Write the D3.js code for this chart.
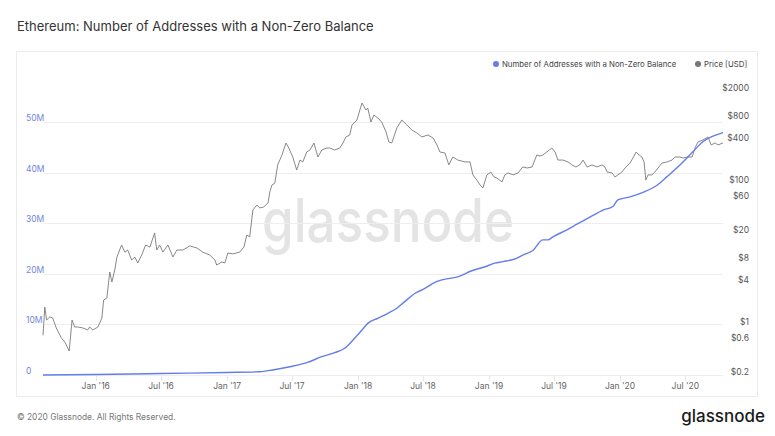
<!DOCTYPE html>
<html>
<head>
<meta charset="utf-8">
<script src="https://cdn.jsdelivr.net/npm/d3@7"></script>
<style>
  html, body { margin: 0; padding: 0; background: #ffffff; }
  svg { display: block; font-family: Inter, "Noto Sans", sans-serif; }
</style>
</head>
<body>
<svg id="chart" width="775" height="436"></svg>
<script>
const priceDates = ["2015-08-07","2015-08-12","2015-08-17","2015-08-26","2015-09-03","2015-09-13","2015-09-27","2015-10-07","2015-10-19","2015-10-27","2015-11-03","2015-11-12","2015-11-26","2015-12-10","2015-12-15","2015-12-24","2016-01-07","2016-01-18","2016-01-23","2016-02-01","2016-02-09","2016-02-15","2016-02-23","2016-02-29","2016-03-13","2016-03-22","2016-03-30","2016-04-10","2016-04-19","2016-04-27","2016-05-08","2016-05-19","2016-05-31","2016-06-13","2016-06-19","2016-06-27","2016-07-06","2016-07-20","2016-08-03","2016-08-14","2016-08-31","2016-09-19","2016-10-09","2016-10-25","2016-11-14","2016-11-28","2016-12-03","2016-12-17","2016-12-26","2017-01-03","2017-01-17","2017-02-05","2017-02-17","2017-02-25","2017-03-05","2017-03-14","2017-03-25","2017-04-02","2017-04-13","2017-04-25","2017-04-30","2017-05-06","2017-05-14","2017-05-22","2017-06-03","2017-06-14","2017-06-22","2017-07-03","2017-07-14","2017-07-23","2017-07-31","2017-08-11","2017-08-20","2017-08-31","2017-09-11","2017-09-22","2017-10-06","2017-10-14","2017-10-28","2017-11-11","2017-11-20","2017-11-28","2017-12-09","2017-12-15","2017-12-29","2018-01-06","2018-01-12","2018-01-23","2018-01-28","2018-02-06","2018-02-14","2018-02-25","2018-03-08","2018-03-20","2018-03-28","2018-04-05","2018-04-19","2018-05-03","2018-05-17","2018-05-31","2018-06-14","2018-06-28","2018-07-15","2018-07-29","2018-08-09","2018-08-17","2018-08-31","2018-09-11","2018-09-22","2018-10-06","2018-10-26","2018-11-09","2018-11-17","2018-11-28","2018-12-07","2018-12-15","2018-12-26","2019-01-06","2019-01-15","2019-01-23","2019-02-06","2019-02-14","2019-02-23","2019-03-09","2019-03-23","2019-04-05","2019-04-17","2019-05-01","2019-05-14","2019-05-23","2019-05-31","2019-06-11","2019-06-25","2019-07-04","2019-07-12","2019-07-26","2019-08-09","2019-08-20","2019-08-31","2019-09-11","2019-09-20","2019-10-01","2019-10-15","2019-10-29","2019-11-12","2019-11-20","2019-11-26","2019-12-10","2019-12-18","2019-12-26","2020-01-06","2020-01-15","2020-01-29","2020-02-06","2020-02-15","2020-02-23","2020-03-02","2020-03-08","2020-03-13","2020-03-19","2020-03-30","2020-04-07","2020-04-16","2020-04-27","2020-05-11","2020-05-25","2020-06-02","2020-06-16","2020-06-25","2020-07-08","2020-07-20","2020-07-28","2020-08-05","2020-08-19","2020-09-02","2020-09-11","2020-09-22","2020-09-30","2020-10-14"];
const priceValues = [0.75,1.87,1.23,1.36,1.31,0.95,0.69,0.60,0.45,1.23,0.98,0.98,0.95,0.89,0.98,0.89,0.98,1.31,2.35,2.51,5.83,4.22,6.22,9.48,14.0,11.1,11.9,8.61,9.48,7.81,10.1,14.0,13.1,20.7,11.9,14.0,11.1,14.0,9.48,11.9,11.9,13.6,12.7,11.1,10.1,8.61,7.31,8.07,7.81,10.8,10.5,11.1,13.1,19.4,18.2,43.6,51.2,46.5,48.0,54.7,78,98,104,188,259,383,325,243,159,220,207,286,305,383,243,305,325,325,305,325,383,465,496,686,807,1115,1400,1115,1191,755,948,861,755,547,395,383,622,807,686,583,530,465,496,450,359,286,277,188,243,220,207,207,136,115,98,89,136,149,127,123,108,136,145,136,145,176,170,176,259,251,259,286,325,286,220,220,207,188,176,188,220,176,188,176,188,176,149,145,127,136,149,170,200,235,286,259,243,207,115,136,136,149,170,200,207,220,243,243,235,243,243,325,395,422,465,359,383,359,383];

const addrDates = ["2015-08-07","2016-01-01","2016-07-01","2017-01-01","2017-04-01","2017-05-08","2017-06-25","2017-08-11","2017-09-22","2017-10-28","2017-11-25","2017-12-18","2018-01-12","2018-01-28","2018-02-25","2018-03-25","2018-04-19","2018-05-11","2018-06-08","2018-07-06","2018-08-03","2018-08-23","2018-10-06","2018-11-14","2018-12-21","2019-01-17","2019-02-09","2019-03-20","2019-04-05","2019-05-03","2019-05-31","2019-06-14","2019-06-28","2019-08-06","2019-09-03","2019-10-09","2019-11-15","2019-12-12","2019-12-26","2020-01-29","2020-03-05","2020-04-13","2020-05-11","2020-06-16","2020-07-22","2020-08-19","2020-09-16","2020-10-14"];
const addrValues = [0.01e6,0.1e6,0.3e6,0.5e6,0.65e6,1.0e6,1.64e6,2.43e6,3.62e6,4.41e6,5.28e6,6.92e6,8.89e6,10.2e6,11.2e6,12.2e6,13.2e6,14.5e6,16.1e6,17.1e6,18.3e6,18.8e6,19.4e6,20.6e6,21.4e6,22.1e6,22.4e6,23.1e6,23.7e6,24.6e6,26.7e6,26.7e6,27.3e6,28.7e6,29.8e6,31.2e6,32.6e6,33.3e6,34.6e6,35.2e6,36.1e6,37.5e6,39.2e6,41.5e6,44.1e6,46.1e6,47.2e6,47.9e6];

const leftTicks = [0, 10e6, 20e6, 30e6, 40e6, 50e6];
const leftTickLabels = ["0", "10M", "20M", "30M", "40M", "50M"];
const rightTicks = [0.2, 0.6, 1, 4, 8, 20, 60, 100, 400, 800, 2000];
const rightTickLabels = ["$0.2", "$0.6", "$1", "$4", "$8", "$20", "$60", "$100", "$400", "$800", "$2000"];
const xTickDates = ["2016-01-01","2016-07-01","2017-01-01","2017-07-01","2018-01-01","2018-07-01","2019-01-01","2019-07-01","2020-01-01","2020-07-01"];
const xTickLabels = ["Jan '16","Jul '16","Jan '17","Jul '17","Jan '18","Jul '18","Jan '19","Jul '19","Jan '20","Jul '20"];

const parse = d3.utcParse("%Y-%m-%d");
const price = priceDates.map((d, i) => ({ date: parse(d), v: priceValues[i] }));
const addr = addrDates.map((d, i) => ({ date: parse(d), v: addrValues[i] }));

const svg = d3.select("#chart");
const BLUE = "#627EEA";

// Title
svg.append("text").attr("x", 17).attr("y", 31)
  .attr("font-size", 13).attr("fill", "#333").text("Ethereum: Number of Addresses with a Non-Zero Balance");

// Panel
svg.append("rect").attr("x", 16.5).attr("y", 51.5).attr("width", 741).attr("height", 345)
  .attr("fill", "#fff").attr("stroke", "#ececec");

const x = d3.scaleUtc().domain([parse("2015-08-07"), parse("2020-10-14")]).range([43, 723]);
const yL = d3.scaleLinear().domain([0, 50e6]).range([375, 122]);
const yR = d3.scaleLog().domain([0.2, 2000]).range([376, 92]);

// Watermark
svg.append("text").attr("x", 388).attr("y", 242).attr("text-anchor", "middle")
  .attr("font-size", 60).attr("font-weight", 500).attr("fill", "#e4e4e4")
  .attr("textLength", 252).attr("lengthAdjust", "spacingAndGlyphs").text("glassnode");

// Gridlines
svg.append("g").selectAll("line").data(leftTicks).join("line")
  .attr("x1", 43).attr("x2", 723)
  .attr("y1", d => Math.round(yL(d)) + 0.5).attr("y2", d => Math.round(yL(d)) + 0.5)
  .attr("stroke", "#eeeeee");

// Left labels
svg.append("g").selectAll("text").data(leftTicks).join("text")
  .attr("x", 26).attr("y", d => yL(d) - 4).attr("dy", "0.35em")
  .attr("font-size", 8.5).attr("fill", "#6f86de")
  .text((d, i) => leftTickLabels[i]);

// Right labels
svg.append("g").selectAll("text").data(rightTicks).join("text")
  .attr("x", 749).attr("y", d => yR(d) - 4).attr("dy", "0.35em").attr("text-anchor", "end")
  .attr("font-size", 8.5).attr("fill", "#555")
  .text((d, i) => rightTickLabels[i]);

// X ticks
const xt = svg.append("g");
xt.selectAll("line").data(xTickDates).join("line")
  .attr("x1", d => Math.round(x(parse(d))) + 0.5).attr("x2", d => Math.round(x(parse(d))) + 0.5)
  .attr("y1", 376).attr("y2", 381).attr("stroke", "#e6e6e6");
xt.selectAll("text").data(xTickDates).join("text")
  .attr("x", d => x(parse(d))).attr("y", 386).attr("dy", "0.35em").attr("text-anchor", "middle")
  .attr("font-size", 8.5).attr("fill", "#666")
  .text((d, i) => xTickLabels[i]);

// Price line
svg.append("path").datum(price)
  .attr("fill", "none").attr("stroke", "#7a7a7a").attr("stroke-width", 0.9)
  .attr("d", d3.line().x(d => x(d.date)).y(d => yR(d.v)));

// Addresses line
svg.append("path").datum(addr)
  .attr("fill", "none").attr("stroke", BLUE).attr("stroke-width", 1.4)
  .attr("d", d3.line().curve(d3.curveMonotoneX).x(d => x(d.date)).y(d => yL(d.v)));

// Legend
const lg = svg.append("g").attr("font-size", 7.8).attr("fill", "#444");
lg.append("circle").attr("cx", 496).attr("cy", 64).attr("r", 3).attr("fill", BLUE);
lg.append("text").attr("x", 502).attr("y", 64).attr("dy", "0.35em").text("Number of Addresses with a Non-Zero Balance");
lg.append("circle").attr("cx", 698).attr("cy", 64).attr("r", 3).attr("fill", "#777");
lg.append("text").attr("x", 704).attr("y", 64).attr("dy", "0.35em").text("Price [USD]");

// Footer
svg.append("text").attr("x", 17).attr("y", 417).attr("dy", "0.35em")
  .attr("font-size", 8.4).attr("fill", "#777").text("© 2020 Glassnode. All Rights Reserved.");
svg.append("text").attr("x", 765).attr("y", 416).attr("dy", "0.35em").attr("text-anchor", "end")
  .attr("font-size", 17).attr("font-weight", 500).attr("fill", "#1a1a1a").text("glassnode");
</script>
</body>
</html>
